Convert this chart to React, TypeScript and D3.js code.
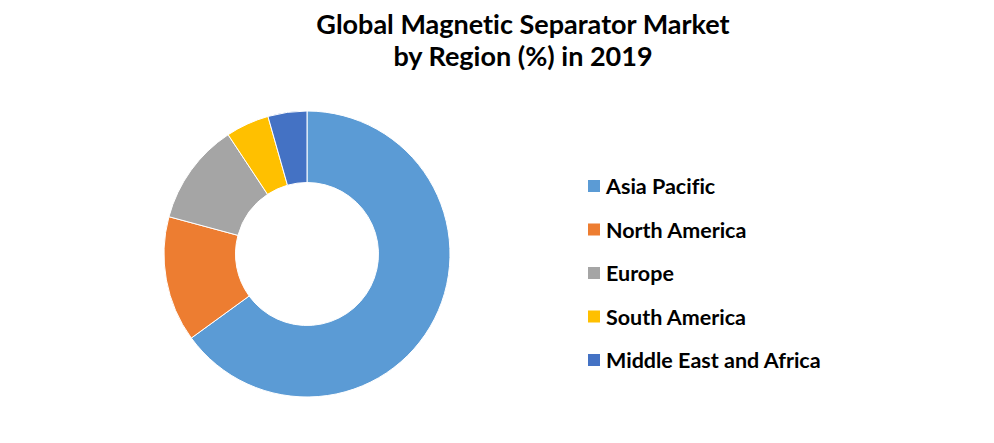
import React from "react";
import * as d3 from "d3";

const regions = ["Asia Pacific", "North America", "Europe", "South America", "Middle East and Africa"];
const shares = [65.0, 14.2, 11.5, 4.9, 4.4];
const colors = ["#5B9BD5", "#ED7D31", "#A5A5A5", "#FFC000", "#4472C4"];
const titleLines = ["Global Magnetic Separator Market", "by Region (%) in 2019"];

const W = 994;
const H = 443;
const FONT = "Lato, 'Open Sans', sans-serif";

export default function App() {
  const cx = 307;
  const cy = 254;
  const outerR = 143;
  const innerR = 71.5;

  const pie = d3.pie<number>().sort(null).value((d) => d)(shares);
  const arc = d3.arc<d3.PieArcDatum<number>>().innerRadius(innerR).outerRadius(outerR);

  const legendY = d3.scalePoint<string>().domain(regions).range([186, 360]);

  return (
    <svg width={W} height={H} style={{ position: "absolute", left: 0, top: 0, background: "#fff", fontVariantLigatures: "none" }}>
      <rect width={W} height={H} fill="#fff" />
      <g fontFamily={FONT} fontWeight="bold" fill="#000" textAnchor="middle">
        <text x={523} y={34} fontSize={27}>{titleLines[0]}</text>
        <text x={523} y={66} fontSize={27}>{titleLines[1]}</text>
      </g>
      <g transform={`translate(${cx},${cy})`}>
        {pie.map((p, i) => (
          <path key={regions[i]} d={arc(p) || ""} fill={colors[i]} stroke="#fff" strokeWidth={1} />
        ))}
      </g>
      <g fontFamily={FONT} fontWeight="bold" fontSize={21.5} fill="#000">
        {regions.map((r, i) => (
          <g key={r} transform={`translate(588,${legendY(r)})`}>
            <rect x={0} y={-6} width={12} height={12} fill={colors[i]} />
            <text x={18} y={0} dominantBaseline="central">{r}</text>
          </g>
        ))}
      </g>
    </svg>
  );
}
